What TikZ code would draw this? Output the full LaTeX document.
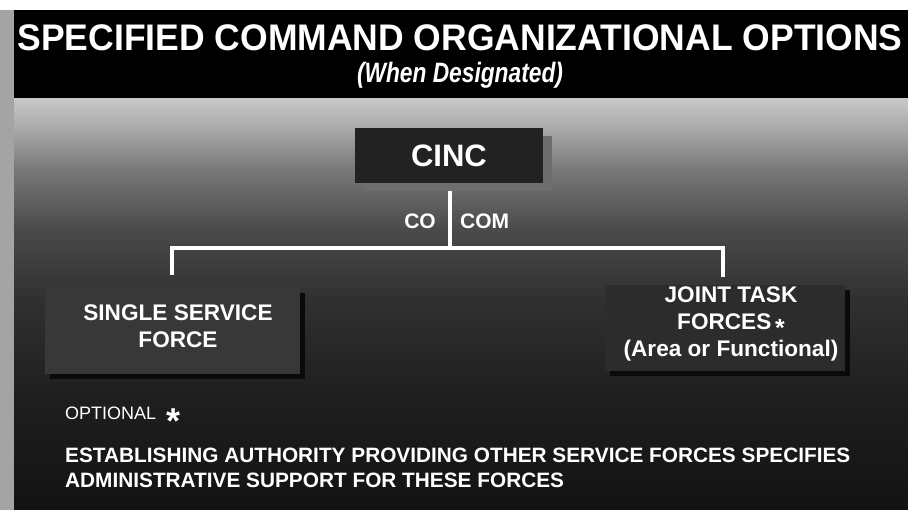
\documentclass[tikz,border=0pt]{standalone}
\usepackage{fontspec}
\setmainfont{Liberation Sans}
\usepackage{graphicx}
\usetikzlibrary{shadows,calc}
\definecolor{bgA}{HTML}{C8C8C8}
\definecolor{bgB}{HTML}{A8A8A8}
\definecolor{bgC}{HTML}{787878}
\definecolor{bgD}{HTML}{4A4A4A}
\definecolor{bgE}{HTML}{303030}
\definecolor{bgF}{HTML}{1E1E1E}
\definecolor{bgG}{HTML}{131313}
\definecolor{stripgray}{HTML}{A4A4A4}
\definecolor{cincfill}{HTML}{222222}
\definecolor{cincshadow}{HTML}{6E6E6E}
\definecolor{boxfillA}{HTML}{383838}
\definecolor{boxfillB}{HTML}{2C2C2C}
\definecolor{boxshadow}{HTML}{0A0A0A}
\pgfdeclareverticalshading{bgshade}{100bp}{color(0bp)=(bgG); color(25bp)=(bgG); color(38.3bp)=(bgF); color(50.5bp)=(bgE); color(59bp)=(bgD); color(66.3bp)=(bgC); color(71.1bp)=(bgB); color(75bp)=(bgA); color(100bp)=(bgA)}
\tikzset{
  conn/.style={draw=white, line width=4.5pt, line join=miter},
  cincbox/.style={fill=cincfill, minimum width=188pt, minimum height=55pt, inner sep=0pt,
    text=white, font=\fontsize{31}{36}\selectfont\bfseries,
    drop shadow={shadow xshift=9pt, shadow yshift=-8pt, fill=cincshadow, opacity=1}},
  unitbox/.style={minimum width=#1, minimum height=86pt, inner sep=0pt,
    drop shadow={shadow xshift=5pt, shadow yshift=-5pt, fill=boxshadow, opacity=1}},
  boxtxt/.style={text=white, align=center, inner sep=0pt,
    font=\fontsize{22.6}{27}\selectfont\bfseries},
  lbl/.style={text=white, inner sep=0pt, font=\fontsize{21}{25}\selectfont\bfseries},
  note/.style={text=white, inner sep=0pt, anchor=base west, font=\fontsize{20.8}{25}\selectfont\bfseries},
}
\begin{document}
\begin{tikzpicture}[x=1pt,y=-1pt]
\useasboundingbox (0,0) rectangle (908,510);
\fill[white] (0,0) rectangle (908,510);
\fill[stripgray] (0,10) rectangle (14,510);
\shade[shading=bgshade] (14,98) rectangle (908,510);
\fill[black] (14,10) rectangle (908,98);
% title
\node[text=white, inner sep=0pt, font=\fontsize{37}{42}\selectfont\bfseries] (title) at (460,38)
  {\resizebox{885pt}{\height}{SPECIFIED COMMAND ORGANIZATIONAL OPTIONS}};
\node[text=white, inner sep=0pt, anchor=base, font=\fontsize{28}{32}\selectfont\bfseries\itshape] (subtitle) at (460,83)
  {\resizebox{206pt}{\height}{(When Designated)}};
% boxes
\node[unitbox=255pt, fill=boxfillA] (ssf) at (172.5,331) {};
\node[unitbox=240pt, fill=boxfillB] (jtf) at (725,328.5) {};
\node[boxtxt] (ssft) at (178,326.5) {SINGLE SERVICE\\FORCE};
\node[boxtxt] (jtft) at (731,324) {JOINT TASK\\FORCES\,\smash{\raisebox{-6.5pt}{\scalebox{1.1}{*}}}\\(Area or Functional)};
% connectors
\coordinate (hbar) at (450,248);
\coordinate (hl) at (172,248);
\coordinate (hr) at (723,248);
\node[cincbox] (cinc) at (449,155.5) {CINC};
\draw[conn, shorten <=8pt] (cinc.south -| hbar) -- (hbar);
\draw[conn] ($(hl |- ssf.north)+(0,-13)$) -- (hl) -- (hr) -- ($(hr |- jtf.north)+(0,-8)$);
\node[lbl, anchor=east] (co) at (436,221) {CO};
\node[lbl, anchor=west] (com) at (460,221) {COM};
% notes
\node[note, font=\fontsize{18}{22}\selectfont] (opt) at (65,419.5) {OPTIONAL\ \ \textbf{\raisebox{-14.5pt}{\scalebox{2}{*}}}};
\node[note] (est1) at (65,462.5) {ESTABLISHING AUTHORITY PROVIDING OTHER SERVICE FORCES SPECIFIES};
\node[note] (est2) at (65,487.5) {ADMINISTRATIVE SUPPORT FOR THESE FORCES};
\end{tikzpicture}
\end{document}
